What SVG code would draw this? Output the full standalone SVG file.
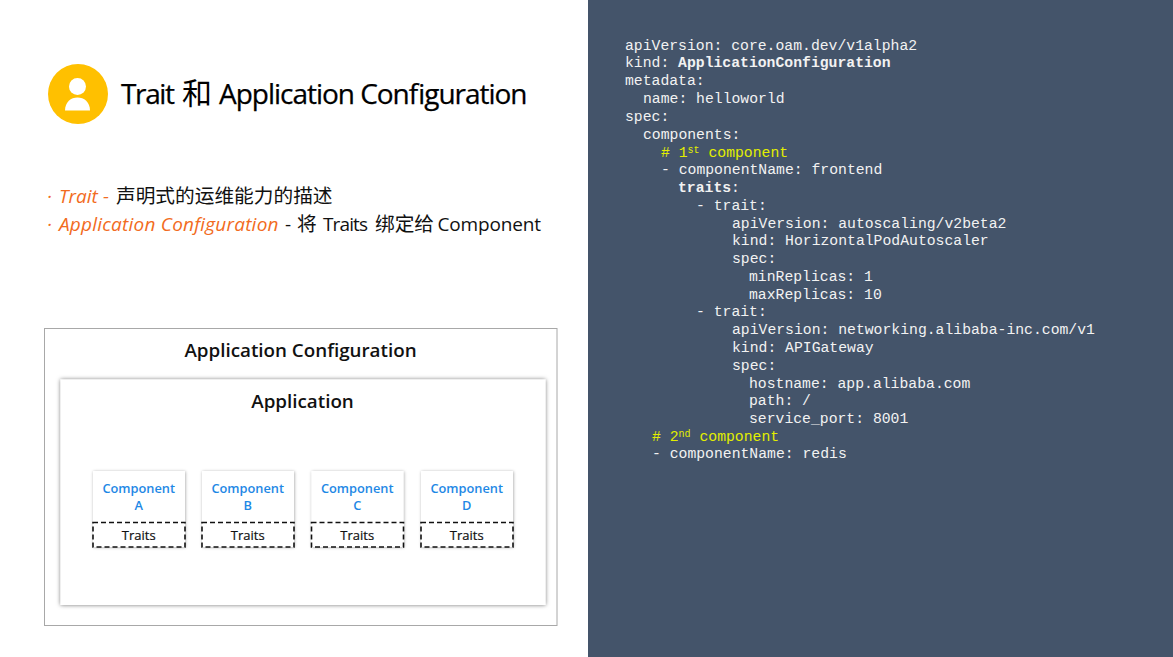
<svg xmlns="http://www.w3.org/2000/svg" width="1173" height="657" viewBox="0 0 1173 657">
<style>
text{font-family:"Open Sans","Noto Sans CJK SC",sans-serif}
.title{font-size:28px;fill:#000;stroke:#000;stroke-width:.25}
.cj{font-size:30px;stroke-width:0}
.bullet{font-size:19px;fill:#111}
.zh{font-size:19.700px}
.or{fill:#F26B21;font-style:italic}
.box{font-size:18.800px;fill:#111;text-anchor:middle;font-weight:600}
.comp{font-size:12.800px;fill:#1E88E5;text-anchor:middle;font-weight:600}
.tr{font-size:13px;fill:#111;text-anchor:middle;stroke:#111;stroke-width:.2}
.card{fill:#fff;filter:url(#s1)}
.dash{fill:#fff;stroke:#111;stroke-width:1.6;stroke-dasharray:5 3}
.code text{font-family:"Liberation Mono",monospace;font-size:14.75px;fill:#F2F2F2;white-space:pre}
.code .y{fill:#E2EE00}
.code .b{font-weight:700}
</style>
<defs>
<filter id="s1" x="-10%" y="-10%" width="120%" height="120%"><feDropShadow dx="0.500" dy="0.500" stdDeviation="1.500" flood-color="#000" flood-opacity=".35"/></filter>
<filter id="s2" x="-3%" y="-3%" width="106%" height="106%"><feDropShadow dx="0" dy="0" stdDeviation="2" flood-color="#000" flood-opacity=".55"/></filter>
</defs>
<rect width="1173" height="657" fill="#fff"/>
<rect x="588" y="0" width="585" height="657" fill="#44546A"/>
<g id="icon">
<circle cx="78" cy="94" r="30" fill="#FFC000"/>
<circle cx="77.500" cy="86.500" r="8.500" fill="#fff"/>
<path d="M65 110.500C65 102 71 97.500 77.500 97.500S90 102 90 110.500Z" fill="#fff"/>
</g>
<text class="title" y="104" id="title"><tspan x="121" textLength="54" lengthAdjust="spacing">Trait</tspan><tspan class="cj" x="182">和</tspan><tspan x="219" textLength="308.500" lengthAdjust="spacing">Application Configuration</tspan></text>
<g id="bullets">
<text class="bullet" y="203"><tspan class="or" x="47" font-style="normal">·</tspan><tspan class="or" x="59">Trait</tspan><tspan class="or" x="103" font-style="normal">-</tspan><tspan class="zh" x="116">声明式的运维能力的描述</tspan></text>
<text class="bullet" y="231"><tspan class="or" x="47" font-style="normal">·</tspan><tspan class="or" x="59" textLength="219.500" lengthAdjust="spacing">Application Configuration</tspan><tspan x="285">-</tspan><tspan class="zh" x="297">将</tspan><tspan x="323" textLength="45" lengthAdjust="spacing">Traits</tspan><tspan class="zh" x="375">绑定给</tspan><tspan x="437.500" textLength="103.500" lengthAdjust="spacing">Component</tspan></text>
</g>
<g id="app-config">
<rect x="44.500" y="328.500" width="512.500" height="297" fill="#fff" stroke="#A8A8A8"/>
<text class="box" x="300.500" y="357">Application Configuration</text>
</g>
<g id="application">
<rect x="60.500" y="379.500" width="485" height="225.500" fill="#fff" filter="url(#s2)"/>
<text class="box" x="302.500" y="408">Application</text>
</g>
<g id="component-a">
<rect class="card" x="93" y="471" width="92" height="76"/>
<text class="comp" x="138.700" y="493">Component</text><text class="comp" x="138.700" y="510">A</text>
<rect class="dash" x="93" y="522.500" width="92" height="24.500"/>
<text class="tr" x="138.700" y="540">Traits</text>
</g>
<g id="component-b">
<rect class="card" x="202" y="471" width="92" height="76"/>
<text class="comp" x="247.700" y="493">Component</text><text class="comp" x="247.700" y="510">B</text>
<rect class="dash" x="202" y="522.500" width="92" height="24.500"/>
<text class="tr" x="247.700" y="540">Traits</text>
</g>
<g id="component-c">
<rect class="card" x="311.500" y="471" width="92" height="76"/>
<text class="comp" x="357.200" y="493">Component</text><text class="comp" x="357.200" y="510">C</text>
<rect class="dash" x="311.500" y="522.500" width="92" height="24.500"/>
<text class="tr" x="357.200" y="540">Traits</text>
</g>
<g id="component-d">
<rect class="card" x="421" y="471" width="92" height="76"/>
<text class="comp" x="466.700" y="493">Component</text><text class="comp" x="466.700" y="510">D</text>
<rect class="dash" x="421" y="522.500" width="92" height="24.500"/>
<text class="tr" x="466.700" y="540">Traits</text>
</g>
<g id="code" class="code">
<text x="625" y="50">apiVersion: core.oam.dev/v1alpha2</text>
<text x="625" y="67">kind: <tspan class="b">ApplicationConfiguration</tspan></text>
<text x="625" y="85">metadata:</text>
<text x="643" y="103">name: helloworld</text>
<text x="625" y="121">spec:</text>
<text x="643" y="139">components:</text>
<text x="661" y="157" class="y"># 1<tspan font-size="10" dy="-4">st</tspan><tspan dy="4"> component</tspan></text>
<text x="661" y="174">- componentName: frontend</text>
<text x="678" y="192" class="b">traits<tspan font-weight="400">:</tspan></text>
<text x="696" y="210">- trait:</text>
<text x="732" y="228">apiVersion: autoscaling/v2beta2</text>
<text x="732" y="245">kind: HorizontalPodAutoscaler</text>
<text x="732" y="263">spec:</text>
<text x="749" y="281">minReplicas: 1</text>
<text x="749" y="299">maxReplicas: 10</text>
<text x="696" y="316">- trait:</text>
<text x="732" y="334">apiVersion: networking.alibaba-inc.com/v1</text>
<text x="732" y="352">kind: APIGateway</text>
<text x="732" y="370">spec:</text>
<text x="749" y="388">hostname: app.alibaba.com</text>
<text x="749" y="405">path: /</text>
<text x="749" y="423">service_port: 8001</text>
<text x="652" y="441" class="y"># 2<tspan font-size="10" dy="-4">nd</tspan><tspan dy="4"> component</tspan></text>
<text x="652" y="458">- componentName: redis</text>
</g>
</svg>
